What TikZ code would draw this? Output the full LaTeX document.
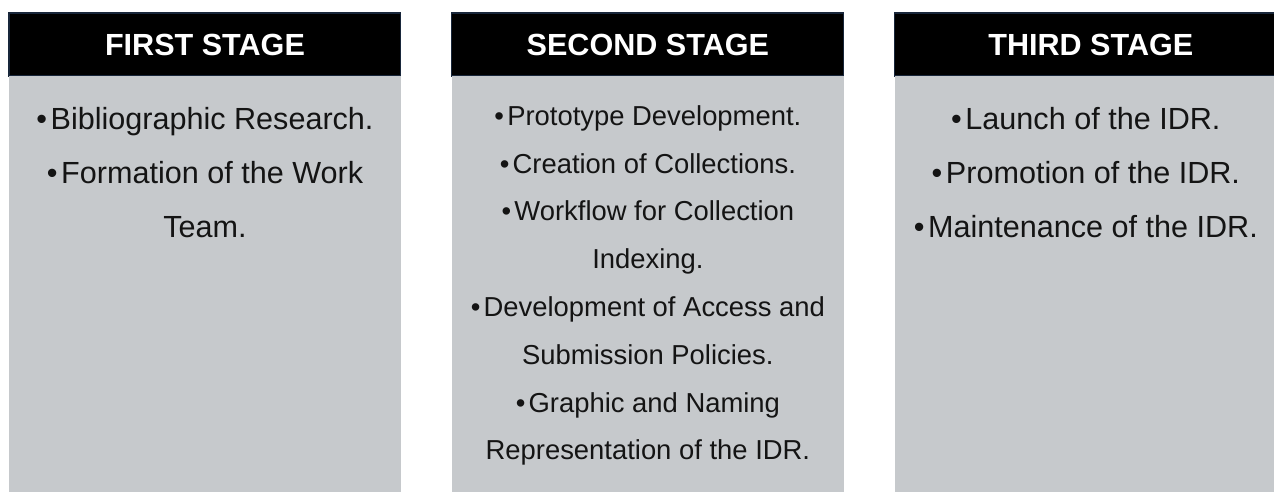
\documentclass[tikz,border=0pt]{standalone}
\usepackage{fontspec}
\setmainfont{Liberation Sans}
\usetikzlibrary{positioning}

\definecolor{headline}{RGB}{24,38,58}
\definecolor{panelgray}{RGB}{198,201,204}
\newcommand{\bul}{•\kern.12em}

\begin{document}
\begin{tikzpicture}[x=0.02cm, y=-0.02cm,
    stagehead/.style={draw=headline, line width=0.6pt, fill=black, text=white,
        minimum width=7.84cm, minimum height=1.26cm, inner sep=0pt, outer sep=0pt,
        font=\fontsize{17.4}{20}\selectfont\bfseries},
    stagebody/.style={fill=panelgray, minimum width=7.84cm, minimum height=8.32cm,
        inner sep=0pt, outer sep=0pt},
    itemlist/.style={align=center, inner sep=0pt, outer sep=0pt, text=black!92,
        font=\fontsize{17.4}{30.6}\selectfont},
    smalllist/.style={itemlist, font=\fontsize{15.6}{27.2}\selectfont}]

    % 1. Khung tranh (đơn vị = 1 px)
    \useasboundingbox (0,0) rectangle (1274,492);

    % 2. Ba tiêu đề màu đen
    \node[stagehead, anchor=north west] (head1) at (9,13) {FIRST STAGE};
    \node[stagehead, right=1.02cm of head1] (head2) {SECOND STAGE};
    \node[stagehead, right=1.02cm of head2] (head3) {THIRD STAGE};

    % 3. Ba khối nền xám bên dưới
    \node[stagebody, below=0pt of head1] (body1) {};
    \node[stagebody, below=0pt of head2] (body2) {};
    \node[stagebody, below=0pt of head3] (body3) {};

    % 4. Danh sách công việc của từng giai đoạn
    \node[itemlist, below=0.63cm of body1.north] (list1)
        {\bul Bibliographic Research.\\ \bul Formation of the Work\\ Team.};

    \node[smalllist, below=0.59cm of body2.north] (list2)
        {\bul Prototype Development.\\ \bul Creation of Collections.\\
         \bul Workflow for Collection\\ Indexing.\\
         \bul Development of Access and\\ Submission Policies.\\
         \bul Graphic and Naming\\ Representation of the IDR.};

    \node[itemlist, below=0.63cm of body3.north, xshift=-0.1cm] (list3)
        {\bul Launch of the IDR.\\ \bul Promotion of the IDR.\\ \bul Maintenance of the IDR.};

\end{tikzpicture}
\end{document}
